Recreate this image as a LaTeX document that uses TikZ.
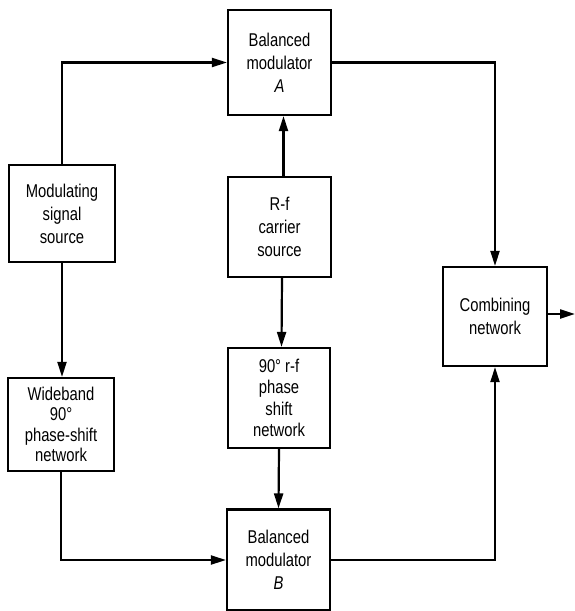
\documentclass[tikz,border=0pt]{standalone}
\usepackage{fontspec}
\setmainfont{Liberation Sans}[FakeStretch=0.8]
\usetikzlibrary{arrows.meta}
\begin{document}
\begin{tikzpicture}[x=1pt,y=-1pt,
  blk/.style={draw,line width=2.2pt,rectangle,align=center,inner sep=0pt,
    font=\fontsize{18.5}{23}\selectfont},
  arr/.style={line width=2.2pt,-{Stealth[length=15pt,width=9pt,inset=0pt]}}]
\useasboundingbox (0,0) rectangle (575,611);
\node[blk,minimum width=103pt,minimum height=105pt] (A) at (279.5,62.5) {Balanced\\modulator\\\textit{A}};
\node[blk,minimum width=106pt,minimum height=97pt] (mod) at (62,213.5) {Modulating\\signal\\source};
\node[blk,minimum width=103pt,minimum height=100pt] (rf) at (279.5,227) {R-f\\carrier\\source};
\node[blk,minimum width=104pt,minimum height=99pt] (comb) at (495,316.5) {Combining\\network};
\node[blk,minimum width=106pt,minimum height=93pt,font=\fontsize{18.5}{20.5}\selectfont] (wide) at (61,424.5) {Wideband\\90°\\phase-shift\\network};
\node[blk,minimum width=102pt,minimum height=100pt,font=\fontsize{18.5}{21.5}\selectfont] (ps) at (279,398) {90° r-f\\phase\\shift\\network};
\node[blk,minimum width=103pt,minimum height=101pt] (B) at (278.5,560) {Balanced\\modulator\\\textit{B}};
\coordinate (out) at (575,314);
\draw[arr] (mod.north) |- (A.west);
\draw[arr] (A.east) -| (comb.north);
\draw[arr] ([xshift=4pt]rf.north) -- ([xshift=4pt]A.south);
\draw[arr] ([xshift=2.5pt]rf.south) -- ([xshift=2.5pt]ps.north);
\draw[arr] (ps.south) -- (B.north);
\draw[arr] (mod.south) -- (mod.south |- wide.north);
\draw[arr] (wide.south) |- (B.west);
\draw[arr] (B.east) -| (comb.south);
\draw[arr] (comb.east |- out) -- (out);
\end{tikzpicture}
\end{document}
